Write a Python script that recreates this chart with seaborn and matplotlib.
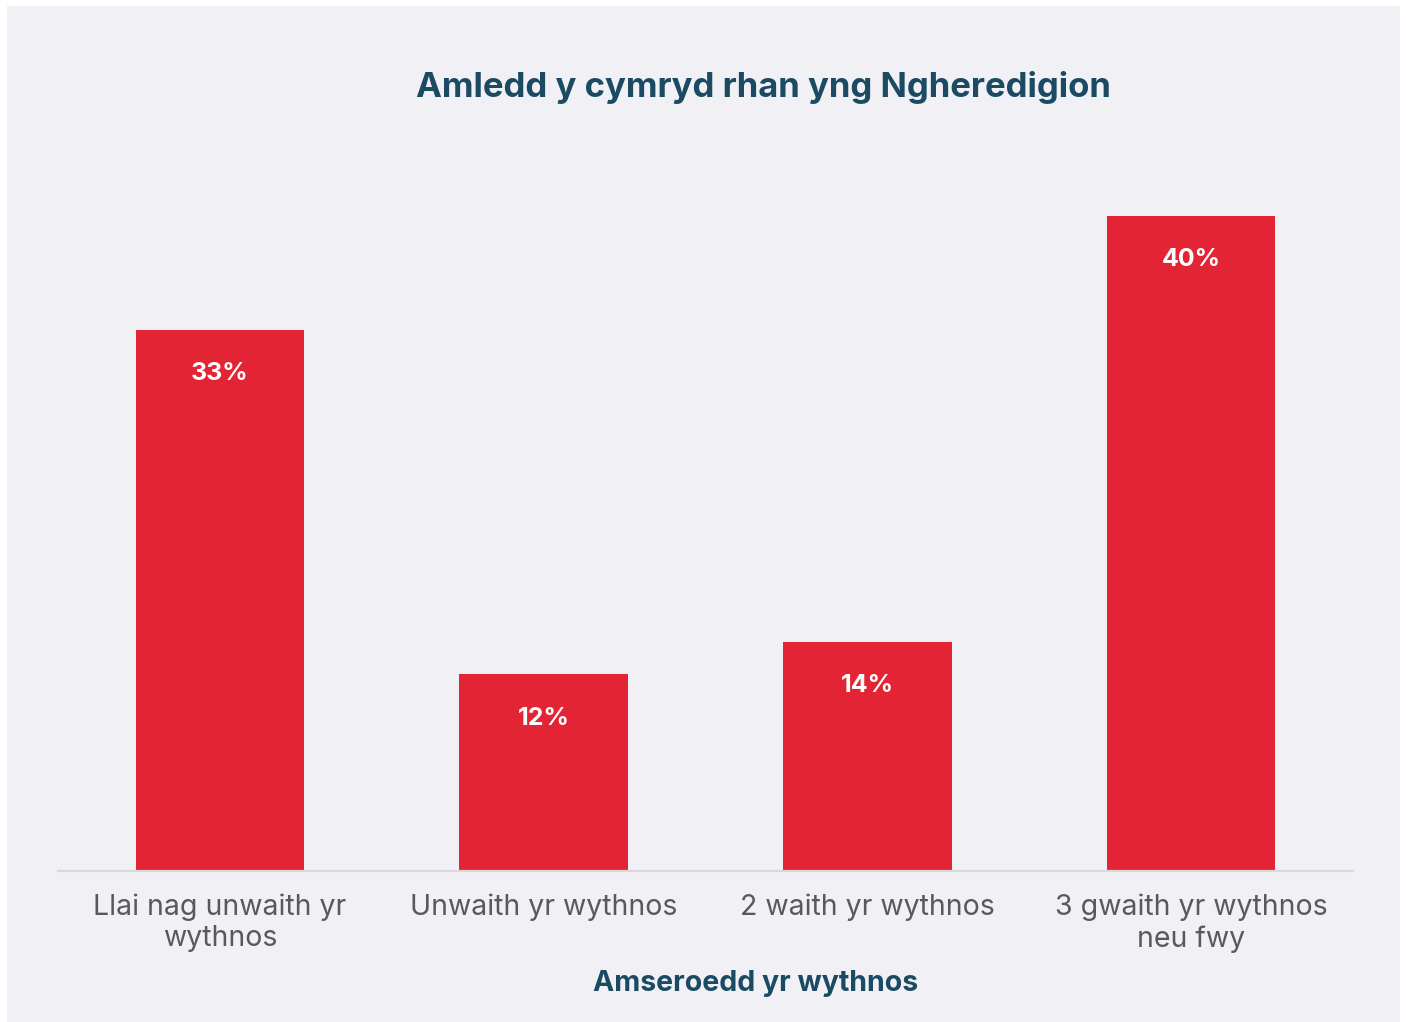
import matplotlib
matplotlib.use("Agg")
import matplotlib.pyplot as plt
from matplotlib.patches import Rectangle
import seaborn as sns
import pandas as pd

# data
categories = ["Llai nag unwaith yr\nwythnos", "Unwaith yr wythnos",
              "2 waith yr wythnos", "3 gwaith yr wythnos\nneu fwy"]
values = [33, 12, 14, 40]
value_labels = ["33%", "12%", "14%", "40%"]

bg = "#F1F0F5"
red = "#E32434"
navy = "#1B4A63"
grey = "#595959"

sns.set_theme(style="white")
plt.rcParams['font.family'] = ['Inter', 'DejaVu Sans']

fig = plt.figure(figsize=(14.06, 10.22), dpi=100, facecolor="white")
# light panel behind everything (white frame round it)
fig.patches.append(Rectangle((7/1406, 0), 1393/1406, 1016/1022,
                             transform=fig.transFigure, facecolor=bg,
                             edgecolor="none", zorder=-10))

ax = fig.add_axes([58/1406, 1 - 871/1022, 1295/1406, 721/1022])
ax.set_facecolor("none")

df = pd.DataFrame({"cat": categories, "val": values})
sns.barplot(data=df, x="cat", y="val", color=red, saturation=1,
            width=0.52, linewidth=0, ax=ax)

ax.set_xlim(-0.5, 3.5)
ax.set_ylim(0, 44)

# labels inside the bars
for i, (v, lab) in enumerate(zip(values, value_labels)):
    ax.annotate(lab, (i, v), xytext=(0, -31.5), textcoords="offset points",
                ha="center", va="center", color="white",
                fontsize=18, fontweight="bold")

for s in ["top", "left", "right"]:
    ax.spines[s].set_visible(False)
ax.spines["bottom"].set_color("#D9D9D9")
ax.spines["bottom"].set_linewidth(1.6)
ax.set_yticks([])
ax.set_ylabel("")
ax.tick_params(axis="x", length=0, pad=16, labelsize=20.5, colors=grey)
for t in ax.get_xticklabels():
    t.set_color(grey)
    t.set_linespacing(1.22)

ax.set_xlabel("Amseroedd yr wythnos", fontsize=20.5, fontweight="bold",
              color=navy)
ax.xaxis.set_label_coords((756 - 58) / 1295, (871 - 970) / 721)

fig.text(763/1406, 1 - 87/1022, "Amledd y cymryd rhan yng Ngheredigion",
         ha="center", va="center", fontsize=25, fontweight="bold",
         color=navy)

fig.savefig("out.png", dpi=100, facecolor="white")
